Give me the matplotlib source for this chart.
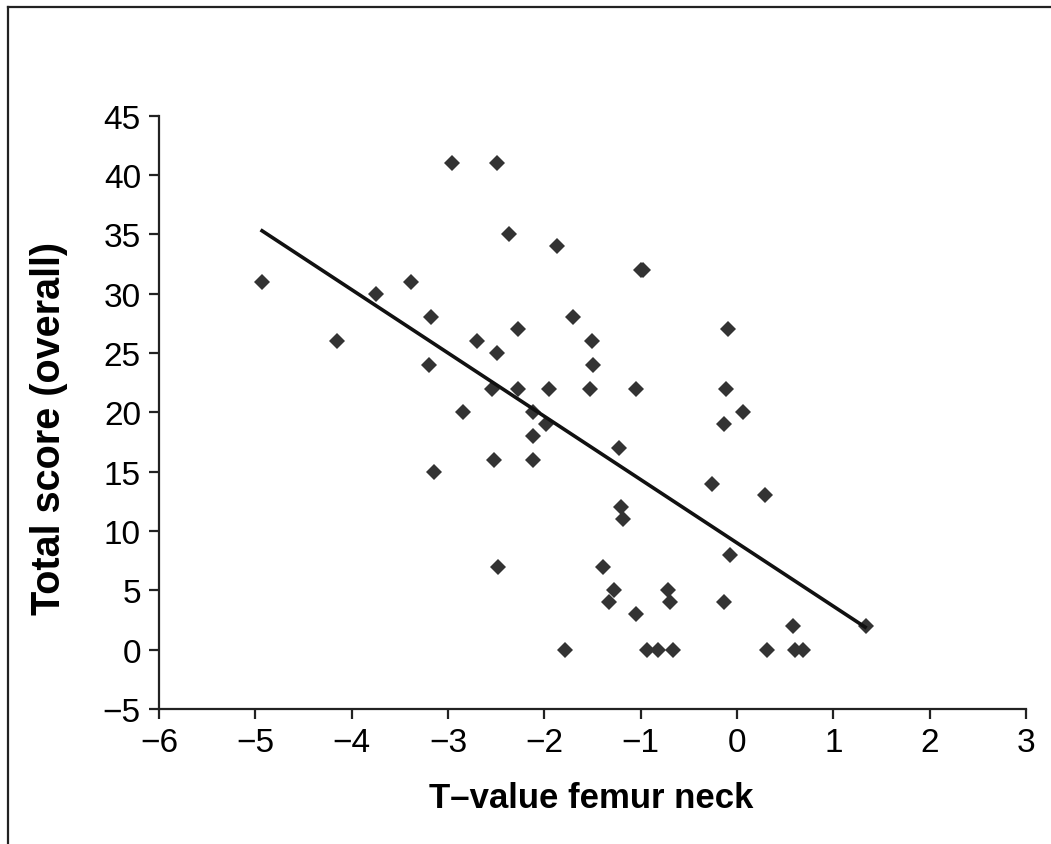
import matplotlib
matplotlib.use("Agg")
import matplotlib.pyplot as plt
from matplotlib.lines import Line2D

t_value = [-4.93, -4.15, -3.75, -3.38, -3.18, -3.20, -3.15, -2.84, -2.96, -2.49,
           -2.70, -2.49, -2.54, -2.52, -2.48, -2.37, -2.27, -2.27, -2.12, -2.12,
           -2.12, -1.98, -1.95, -1.87, -1.79, -1.70, -1.51, -1.50, -1.53, -1.22,
           -1.20, -1.18, -1.39, -1.28, -1.33, -1.05, -0.93, -0.82, -0.66, -0.72,
           -0.70, -1.05, -1.00, -0.98, -0.26, 0.29, -0.07, -0.14, 0.31, 0.58,
           0.60, 0.68, 1.34, -0.09, -0.11, 0.06, -0.14]
total_score = [31, 26, 30, 31, 28, 24, 15, 20, 41, 41,
               26, 25, 22, 16, 7, 35, 27, 22, 20, 18,
               16, 19, 22, 34, 0, 28, 26, 24, 22, 17,
               12, 11, 7, 5, 4, 3, 0, 0, 0, 5,
               4, 22, 32, 32, 14, 13, 8, 4, 0, 2,
               0, 0, 2, 27, 22, 20, 19]
trend_x = [-4.93, 1.33]
trend_y = [35.3, 1.9]

x_ticks = [-6, -5, -4, -3, -2, -1, 0, 1, 2, 3]
y_ticks = [-5, 0, 5, 10, 15, 20, 25, 30, 35, 40, 45]

plt.rcParams['font.family'] = ['Liberation Sans', 'DejaVu Sans']

fig = plt.figure(figsize=(10.51, 8.45), dpi=100)
ax_w = (1026 - 159) / 1051
ax_h = (710 - 116.7) / 845
ax = fig.add_axes([159/1051, 1 - 710/845, ax_w, ax_h])

ax.plot(t_value, total_score, linestyle='none', marker='D', markersize=8.3,
        color='#333333', markeredgewidth=0)
ax.plot(trend_x, trend_y, color='#111111', linewidth=2.6)

ax.set_xlim(-6, 3)
ax.set_ylim(-5, 45)
ax.set_xticks(x_ticks)
ax.set_yticks(y_ticks)
ax.set_xticklabels([str(v).replace('-', '\u2212') for v in x_ticks])
ax.set_yticklabels([str(v).replace('-', '\u2212') for v in y_ticks])

for s in ['top', 'right']:
    ax.spines[s].set_visible(False)
for s in ['left', 'bottom']:
    ax.spines[s].set_linewidth(1.6)
    ax.spines[s].set_color('#222222')
ax.tick_params(direction='out', length=7, width=1.6, color='#222222',
               labelsize=24, pad=6)
ax.set_xlabel('T\u2013value femur neck', fontsize=25, fontweight='bold')
ax.set_ylabel('Total score (overall)', fontsize=28.5, fontweight='bold')
ax.xaxis.set_label_coords((591 - 159) / 867, (710 - 782) / 593.3)
ax.yaxis.set_label_coords((68 - 159) / 867, (710 - 428.5) / 593.3)

fx = 8 / 1051
fy = 1 - 8 / 845
fig.add_artist(Line2D([fx, 1.0], [fy, fy], transform=fig.transFigure,
                      color='#222222', linewidth=1.6))
fig.add_artist(Line2D([fx, fx], [fy, 0.0], transform=fig.transFigure,
                      color='#222222', linewidth=1.6))

fig.savefig('out.png', dpi=100)
